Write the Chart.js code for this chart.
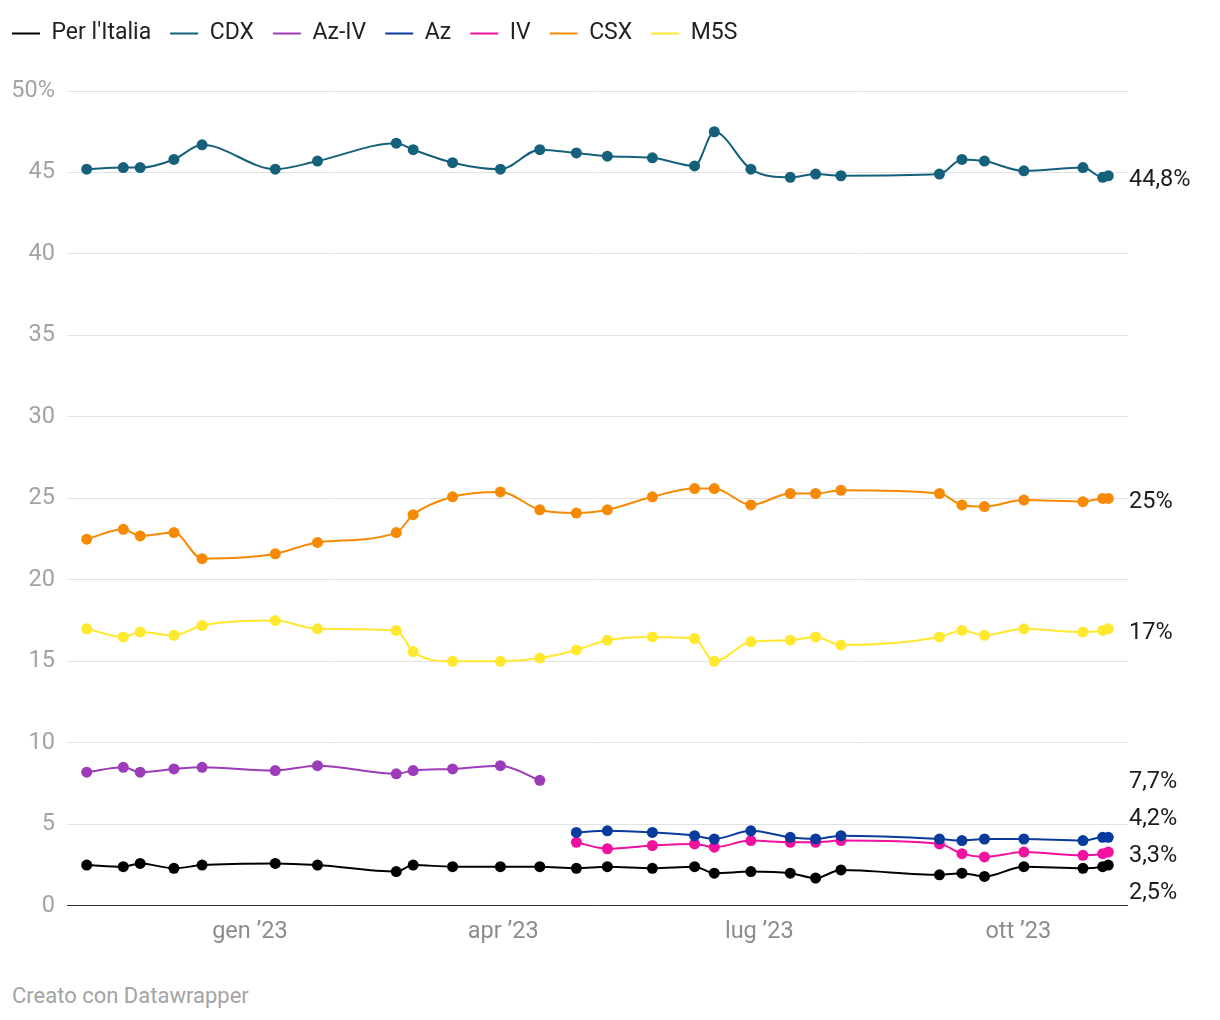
<!DOCTYPE html>
<html>
<head>
<meta charset="utf-8">
<script src="https://cdn.jsdelivr.net/npm/chart.js@4"></script>
<style>
  body { margin: 0; background: #fff; font-family: Roboto, sans-serif; }
  #wrap { position: relative; width: 1220px; height: 1020px; }
  #footer { position: absolute; left: 12px; top: 983px; font-size: 22px; color: #a3a3a3; }
</style>
</head>
<body>
<div id="wrap">
  <canvas id="pollChart" width="1220" height="960"></canvas>
  <div id="footer">Creato con Datawrapper</div>
</div>
<script>
// poll dates
const dates = ['2022-11-04', '2022-11-17', '2022-11-23', '2022-12-05', '2022-12-15', '2023-01-10', '2023-01-25',
    '2023-02-22', '2023-02-28', '2023-03-14', '2023-03-31', '2023-04-14', '2023-04-27', '2023-05-08',
    '2023-05-24', '2023-06-08', '2023-06-15', '2023-06-28', '2023-07-12', '2023-07-21', '2023-07-30',
    '2023-09-03', '2023-09-11', '2023-09-19', '2023-10-03', '2023-10-24', '2023-10-31', '2023-11-02'];

const perItalia = [2.5, 2.4, 2.6, 2.3, 2.5, 2.6, 2.5, 2.1, 2.5, 2.4, 2.4, 2.4, 2.3, 2.4,
    2.3, 2.4, 2.0, 2.1, 2.0, 1.7, 2.2, 1.9, 2.0, 1.8, 2.4, 2.3, 2.4, 2.5];
const cdx = [45.2, 45.3, 45.3, 45.8, 46.7, 45.2, 45.7, 46.8, 46.4, 45.6, 45.2, 46.4, 46.2, 46.0,
    45.9, 45.4, 47.5, 45.2, 44.7, 44.9, 44.8, 44.9, 45.8, 45.7, 45.1, 45.3, 44.7, 44.8];
const azIv = [8.2, 8.5, 8.2, 8.4, 8.5, 8.3, 8.6, 8.1, 8.3, 8.4, 8.6, 7.7, null, null,
    null, null, null, null, null, null, null, null, null, null, null, null, null, null];
const az = [null, null, null, null, null, null, null, null, null, null, null, null, 4.5, 4.6,
    4.5, 4.3, 4.1, 4.6, 4.2, 4.1, 4.3, 4.1, 4.0, 4.1, 4.1, 4.0, 4.2, 4.2];
const iv = [null, null, null, null, null, null, null, null, null, null, null, null, 3.9, 3.5,
    3.7, 3.8, 3.6, 4.0, 3.9, 3.9, 4.0, 3.8, 3.2, 3.0, 3.3, 3.1, 3.2, 3.3];
const csx = [22.5, 23.1, 22.7, 22.9, 21.3, 21.6, 22.3, 22.9, 24.0, 25.1, 25.4, 24.3, 24.1, 24.3,
    25.1, 25.6, 25.6, 24.6, 25.3, 25.3, 25.5, 25.3, 24.6, 24.5, 24.9, 24.8, 25.0, 25.0];
const m5s = [17.0, 16.5, 16.8, 16.6, 17.2, 17.5, 17.0, 16.9, 15.6, 15.0, 15.0, 15.2, 15.7, 16.3,
    16.5, 16.4, 15.0, 16.2, 16.3, 16.5, 16.0, 16.5, 16.9, 16.6, 17.0, 16.8, 16.9, 17.0];

const seriesNames = ["Per l'Italia", 'CDX', 'Az-IV', 'Az', 'IV', 'CSX', 'M5S'];
const seriesColors = ['#000000', '#15607a', '#9c3cb8', '#083b9c', '#f0119f', '#f68a04', '#ffe82e'];
const seriesData = [perItalia, cdx, azIv, az, iv, csx, m5s];

const tickDates = ['2023-01-01', '2023-04-01', '2023-07-01', '2023-10-01'];
const tickLabels = ['gen ’23', 'apr ’23', 'lug ’23', 'ott ’23'];
const axisRange = ['2022-10-28', '2023-11-09'];

// days since 1 Jan 2023 (no date adapter available)
function dayNum(s) {
    const p = s.split('-').map(Number);
    return (Date.UTC(p[0], p[1] - 1, p[2]) - Date.UTC(2023, 0, 1)) / 86400000;
}
const xDays = dates.map(dayNum);
const tickDays = tickDates.map(dayNum);

Chart.defaults.font.family = 'Roboto, sans-serif';
Chart.defaults.font.size = 23.5;

const datasets = seriesNames.map((name, i) => ({
    label: name,
    data: seriesData[i].map((v, k) => ({ x: xDays[k], y: v })),
    borderColor: seriesColors[i],
    backgroundColor: seriesColors[i],
    pointBackgroundColor: seriesColors[i],
    borderWidth: 2,
    pointRadius: 5.5,
    pointBorderWidth: 0,
    pointHoverRadius: 5.5,
    cubicInterpolationMode: 'monotone',
    spanGaps: false
}));

function fmt(v) {
    return String(v).replace('.', ',') + '%';
}

// last-value labels on the right, pushed apart when they collide
const endLabels = {
    id: 'endLabels',
    afterDatasetsDraw(chart) {
        const ctx = chart.ctx;
        const yScale = chart.scales.y;
        const gap = 37;
        const items = [];
        chart.data.datasets.forEach(ds => {
            const pts = ds.data.filter(p => p.y !== null);
            const last = pts[pts.length - 1];
            items.push({ text: fmt(last.y), y: yScale.getPixelForValue(last.y) + 4 });
        });
        items.sort((a, b) => a.y - b.y);
        let groups = items.map(it => ({ items: [it], center: it.y }));
        let merged = true;
        while (merged) {
            merged = false;
            for (let i = 0; i < groups.length - 1; i++) {
                const a = groups[i], b = groups[i + 1];
                const aBottom = a.center + (a.items.length - 1) * gap / 2;
                const bTop = b.center - (b.items.length - 1) * gap / 2;
                if (bTop - aBottom < gap) {
                    const all = a.items.concat(b.items);
                    const center = all.reduce((s, it) => s + it.y, 0) / all.length;
                    groups.splice(i, 2, { items: all, center: center });
                    merged = true;
                    break;
                }
            }
        }
        ctx.save();
        ctx.font = '23.5px Roboto, sans-serif';
        ctx.fillStyle = '#1d1d1d';
        ctx.textAlign = 'left';
        ctx.textBaseline = 'middle';
        groups.forEach(g => {
            g.items.forEach((it, k) => {
                const ly = g.center + (k - (g.items.length - 1) / 2) * gap;
                ctx.fillText(it.text, chart.chartArea.right + 1, ly);
            });
        });
        ctx.restore();
    }
};

// room under the legend, and legend flush with the left edge
const legendSpace = {
    id: 'legendSpace',
    beforeInit(chart) {
        const fit = chart.legend.fit;
        chart.legend.fit = function () {
            fit.bind(chart.legend)();
            this.height += 36;
        };
    },
    afterLayout(chart) {
        chart.legend.left = -7;
    }
};

const ctx = document.getElementById('pollChart').getContext('2d');
const pollChart = new Chart(ctx, {
    type: 'line',
    data: { datasets: datasets },
    plugins: [endLabels, legendSpace],
    options: {
        responsive: false,
        animation: false,
        events: [],
        layout: {
            padding: { top: 3, left: 12, right: 92, bottom: 2 }
        },
        scales: {
            x: {
                type: 'linear',
                min: dayNum(axisRange[0]),
                max: dayNum(axisRange[1]),
                afterBuildTicks: axis => {
                    axis.ticks = tickDays.map(v => ({ value: v }));
                },
                ticks: {
                    autoSkip: false,
                    maxRotation: 0,
                    padding: 12,
                    color: '#8c8c8c',
                    callback: value => tickLabels[tickDays.indexOf(value)]
                },
                grid: { display: false, drawTicks: false },
                border: { display: false }
            },
            y: {
                min: 0,
                max: 50,
                afterFit: axis => {
                    axis.width = 55;
                },
                ticks: {
                    stepSize: 5,
                    padding: 12,
                    color: '#a3a3a3',
                    callback: value => value === 50 ? '50%' : value
                },
                grid: {
                    drawTicks: false,
                    color: c => c.tick.value === 0 ? '#333333' : '#e2e2e2',
                    lineWidth: 1
                },
                border: { display: false }
            }
        },
        plugins: {
            legend: {
                position: 'top',
                align: 'start',
                labels: {
                    usePointStyle: true,
                    pointStyle: 'line',
                    pointStyleWidth: 28,
                    padding: 19,
                    color: '#222222',
                    font: { size: 23 },
                    generateLabels: chart => Chart.defaults.plugins.legend.labels.generateLabels(chart)
                        .map(l => Object.assign(l, { lineWidth: 2, strokeStyle: seriesColors[l.datasetIndex] }))
                }
            },
            tooltip: { enabled: false }
        }
    }
});
</script>
</body>
</html>
